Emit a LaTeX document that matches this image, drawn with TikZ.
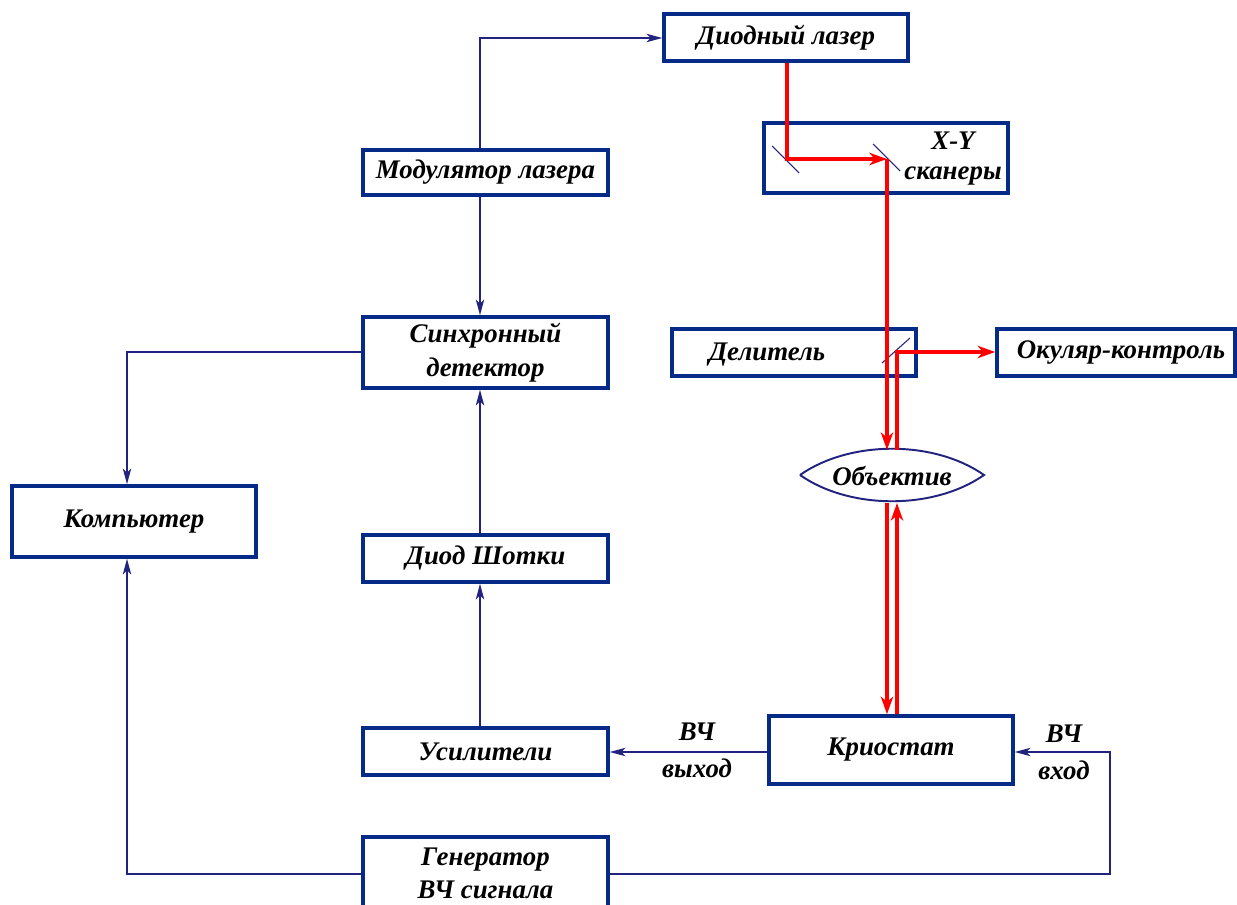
\documentclass[tikz,border=0pt]{standalone}
\usepackage{fontspec}
\setmainfont{Liberation Serif}
\usetikzlibrary{arrows.meta}
\definecolor{boxblue}{HTML}{062A88}
\definecolor{lineblue}{HTML}{22227F}
\definecolor{beamred}{HTML}{FF0000}
\tikzset{
  box/.style={draw=boxblue, line width=2pt, fill=white, inner sep=0pt, align=center,
    font=\fontsize{15.3}{19}\selectfont\bfseries\itshape},
  lbl/.style={inner sep=0pt, align=center, font=\fontsize{15.3}{19}\selectfont\bfseries\itshape},
  conn/.style={draw=lineblue, line width=1pt},
  carr/.style={conn, -{Stealth[length=9pt, width=4.8pt, inset=2.5pt]}},
  beam/.style={draw=beamred, line width=1.8pt},
  barr/.style={beam, -{Stealth[length=10pt, width=7pt, inset=3pt]}},
  mirror/.style={draw=lineblue, line width=0.6pt}
}
\begin{document}
\begin{tikzpicture}[x=0.02cm, y=-0.02cm]
\useasboundingbox[fill=white] (0,0) rectangle (1237,905);

% boxes
\node[box, minimum width=244*0.02cm, minimum height=47*0.02cm] (laser) at (786,37.5) {Диодный лазер};
\node[box, minimum width=244*0.02cm, minimum height=70*0.02cm] (scan) at (886,158) {};
\node[lbl] (scanA) at (953,141) {X-Y};
\node[lbl] (scanB) at (953,176) {сканеры};
\node[box, minimum width=245*0.02cm, minimum height=45*0.02cm] (mod) at (485.5,172.5) {Модулятор лазера};
\node[box, minimum width=245*0.02cm, minimum height=71*0.02cm] (sync) at (485.5,352.5) {Синхронный\\детектор};
\node[box, minimum width=244*0.02cm, minimum height=71*0.02cm] (comp) at (134,521.5) {Компьютер};
\node[box, minimum width=245*0.02cm, minimum height=47*0.02cm] (shot) at (485.5,558.5) {Диод Шотки};
\node[box, minimum width=245*0.02cm, minimum height=47*0.02cm] (usil) at (485.5,751.5) {Усилители};
\node[box, minimum width=244*0.02cm, minimum height=68*0.02cm] (krio) at (891,750) {Криостат};
\node[box, minimum width=245*0.02cm, minimum height=78*0.02cm] (gen) at (485.5,876) {};
\node[lbl] (genT) at (485.5,873.5) {Генератор\\ВЧ сигнала};
\node[box, minimum width=244*0.02cm, minimum height=47*0.02cm] (deli) at (794,352.5) {};
\node[lbl] (deliT) at (767,355) {Делитель};
\node[box, minimum width=238*0.02cm, minimum height=47*0.02cm] (okul) at (1116,352.5) {};
\node[lbl] (okulT) at (1121,353) {Окуляр-контроль};

% objective lens
\draw[draw=lineblue, line width=1.1pt, fill=white] (800,475) .. controls (850,440) and (934,440) .. (984,475)
  .. controls (934,510) and (850,510) .. (800,475);
\node[lbl] (obj) at (892,476) {Объектив};

% mirrors
\draw[mirror] (772,146) -- (799,173);
\draw[mirror] (873,144) -- (900,171);
\draw[mirror] (882,363) -- (910,338);

% beam coordinates
\coordinate (m1) at (787,159);
\coordinate (m2) at (887,159);
\coordinate (objTopIn) at (887,450);
\coordinate (objTopOut) at (897,450);
\coordinate (objBotIn) at (887,503);
\coordinate (objBotOut) at (897,503);
\coordinate (split) at (897,352);

% red beams
\draw[barr] (laser.south -| m1) -- (m1) -- (m2);
\draw[barr] (m2) -- (objTopIn);
\draw[barr] (objBotIn) -- (krio.north -| objBotIn);
\draw[barr] (krio.north -| objBotOut) -- (objBotOut);
\draw[barr] (objTopOut) -- (split) -- (okul.west |- split);

% blue connectors
\coordinate (c1) at (480,38);
\draw[carr] (mod.north -| c1) -- (c1) -- (laser.west |- c1);
\draw[carr] (mod.south -| c1) -- (sync.north -| c1);
\coordinate (c2) at (127,352);
\draw[carr] (sync.west |- c2) -- (c2) -- (comp.north -| c2);
\draw[carr] (shot.north -| c1) -- (sync.south -| c1);
\draw[carr] (usil.north -| c1) -- (shot.south -| c1);
\coordinate (c3) at (700,752);
\draw[carr] (krio.west |- c3) -- (usil.east |- c3);
\coordinate (c4) at (127,874);
\draw[carr] (gen.west |- c4) -- (c4) -- (comp.south -| c4);
\coordinate (c5) at (1110,874);
\coordinate (c6) at (1110,752);
\draw[carr] (gen.east |- c5) -- (c5) -- (c6) -- (krio.east |- c6);

% labels
\node[lbl] (outA) at (697,732) {ВЧ};
\node[lbl] (outB) at (697,768) {выход};
\node[lbl] (inA) at (1064,734) {ВЧ};
\node[lbl] (inB) at (1064,770) {вход};
\end{tikzpicture}
\end{document}
